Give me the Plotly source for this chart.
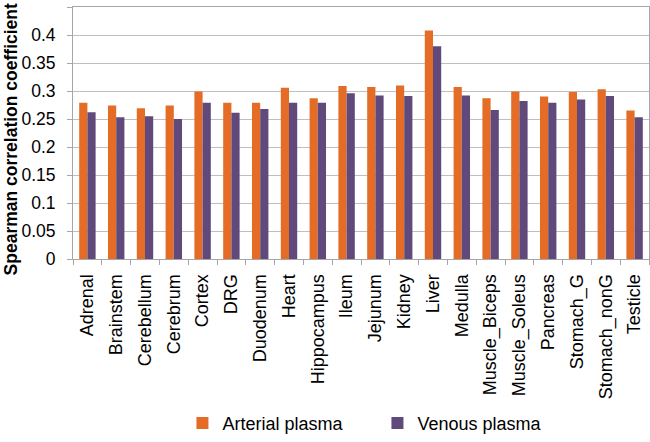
import plotly.graph_objects as go

categories = ["Adrenal", "Brainstem", "Cerebellum", "Cerebrum", "Cortex", "DRG",
              "Duodenum", "Heart", "Hippocampus", "Ileum", "Jejunum", "Kidney",
              "Liver", "Medulla", "Muscle_Biceps", "Muscle_Soleus", "Pancreas",
              "Stomach_G", "Stomach_nonG", "Testicle"]
arterial = [0.279, 0.274, 0.269, 0.274, 0.299, 0.279, 0.279, 0.306, 0.287, 0.309,
            0.307, 0.310, 0.408, 0.307, 0.287, 0.299, 0.290, 0.298, 0.303, 0.265]
venous = [0.262, 0.253, 0.255, 0.250, 0.279, 0.261, 0.268, 0.279, 0.279, 0.296,
          0.292, 0.291, 0.380, 0.292, 0.266, 0.282, 0.279, 0.285, 0.291, 0.253]
y_ticks = [0, 0.05, 0.1, 0.15, 0.2, 0.25, 0.3, 0.35, 0.4, 0.45]
y_tick_text = ["0", "0.05", "0.1", "0.15", "0.2", "0.25", "0.3", "0.35", "0.4", "0.45"]

FONT = "Liberation Sans, Arial, sans-serif"
ORANGE = "#E46C26"
PURPLE = "#604A7B"
GRID = "#BFBFBF"

fig = go.Figure()
fig.add_trace(go.Bar(x=categories, y=arterial, name="Arterial plasma",
                     marker=dict(color=ORANGE, line=dict(width=0))))
fig.add_trace(go.Bar(x=categories, y=venous, name="Venous plasma",
                     marker=dict(color=PURPLE, line=dict(width=0))))

fig.update_layout(
    width=650, height=442,
    margin=dict(l=73, r=1, t=7, b=180, pad=0),
    paper_bgcolor="white", plot_bgcolor="white",
    barmode="group", bargap=0.43, bargroupgap=0,
    font=dict(family=FONT, size=17, color="#000000"),
    showlegend=True,
    legend=dict(orientation="h", x=0.19, xanchor="left", y=-0.652, yanchor="middle",
                font=dict(family=FONT, size=18, color="#000000"),
                itemwidth=30, entrywidth=150, entrywidthmode="pixels",
                bgcolor="rgba(0,0,0,0)", traceorder="normal"),
    xaxis=dict(
        tickangle=-90, tickfont=dict(family=FONT, size=18, color="#000000"),
        showline=True, linecolor="#A6A6A6", linewidth=1, mirror=True,
        ticks="outside", ticklen=5, tickcolor="#A6A6A6", tickson="boundaries",
        ticklabelstandoff=7, showgrid=False, fixedrange=True,
    ),
    yaxis=dict(
        range=[0, 0.45], tickvals=y_ticks, ticktext=y_tick_text,
        tickfont=dict(family=FONT, size=17.5, color="#000000"),
        showline=True, linecolor="#A6A6A6", linewidth=1, mirror=True,
        ticks="outside", ticklen=5, tickcolor="#A6A6A6",
        ticklabelstandoff=8, fixedrange=True,
        showgrid=True, gridcolor=GRID, gridwidth=1, zeroline=False,
    ),
    annotations=[dict(
        text="<b>Spearman correlation coefficient</b>", textangle=-90,
        xref="paper", yref="paper", x=-0.1076, y=0.4745,
        xanchor="center", yanchor="middle", showarrow=False,
        font=dict(family=FONT, size=17.5, color="#000000"),
    )],
)

fig.write_html("out.html", config={"displayModeBar": False},
               post_script="document.body.style.margin='0';document.body.style.overflow='hidden';")
